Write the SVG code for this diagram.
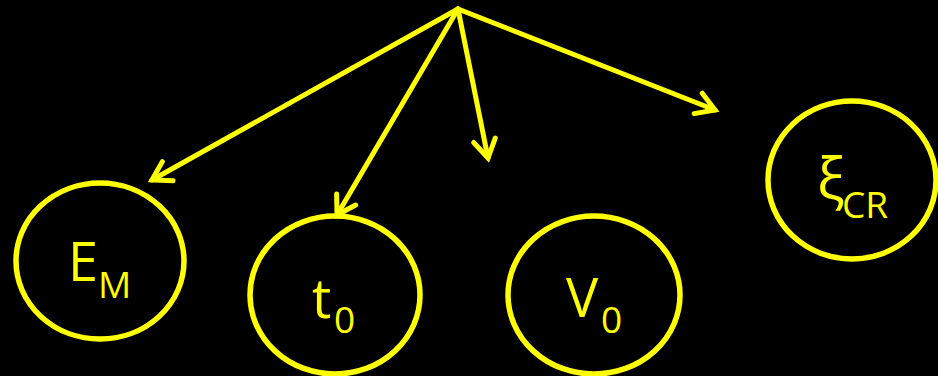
<svg xmlns="http://www.w3.org/2000/svg" width="938" height="376" viewBox="0 0 938 376">
<style>
.node{fill:none;stroke:#ffff00;stroke-width:5.5}
.edge{stroke:#ffff00;stroke-width:5;fill:none;stroke-linecap:round}
.lbl{fill:#ffff00;font-family:"Open Sans","Liberation Sans",sans-serif}
.big{font-size:54px}
.sub{font-size:37px}
</style>
<defs>
<marker id="ah" markerUnits="userSpaceOnUse" markerWidth="40" markerHeight="40" refX="0" refY="0" viewBox="-25 -20 30 40" orient="auto" overflow="visible">
<path d="M-18,-11 L0,0 L-18,11" fill="none" stroke="#ffff00" stroke-width="5" stroke-linecap="round" stroke-linejoin="miter"/>
</marker>
</defs>
<rect width="938" height="376" fill="#000"/>
<g id="connectors">
<line class="edge" x1="458" y1="9" x2="152" y2="180" marker-end="url(#ah)"/>
<line class="edge" x1="458" y1="9" x2="337" y2="215" marker-end="url(#ah)"/>
<line class="edge" x1="458" y1="9" x2="488" y2="158" marker-end="url(#ah)"/>
<line class="edge" x1="458" y1="9" x2="715" y2="110" marker-end="url(#ah)"/>
</g>
<g id="EM">
<ellipse class="node" cx="100" cy="261" rx="84" ry="78"/>
<text class="lbl big" x="68" y="281">E</text>
<text class="lbl sub" x="98" y="298">M</text>
</g>
<g id="t0">
<ellipse class="node" cx="335" cy="295" rx="85" ry="79"/>
<text class="lbl big" x="312" y="318">t</text>
<text class="lbl sub" x="334" y="333">0</text>
</g>
<g id="V0">
<ellipse class="node" cx="594" cy="295" rx="86" ry="79"/>
<text class="lbl big" x="566" y="317">V</text>
<text class="lbl sub" x="601" y="333">0</text>
</g>
<g id="xiCR">
<ellipse class="node" cx="852" cy="180" rx="84" ry="79"/>
<text class="lbl" style="font-size:58px" x="817" y="200">ξ</text>
<text class="lbl sub" x="842" y="218">CR</text>
</g>
</svg>
